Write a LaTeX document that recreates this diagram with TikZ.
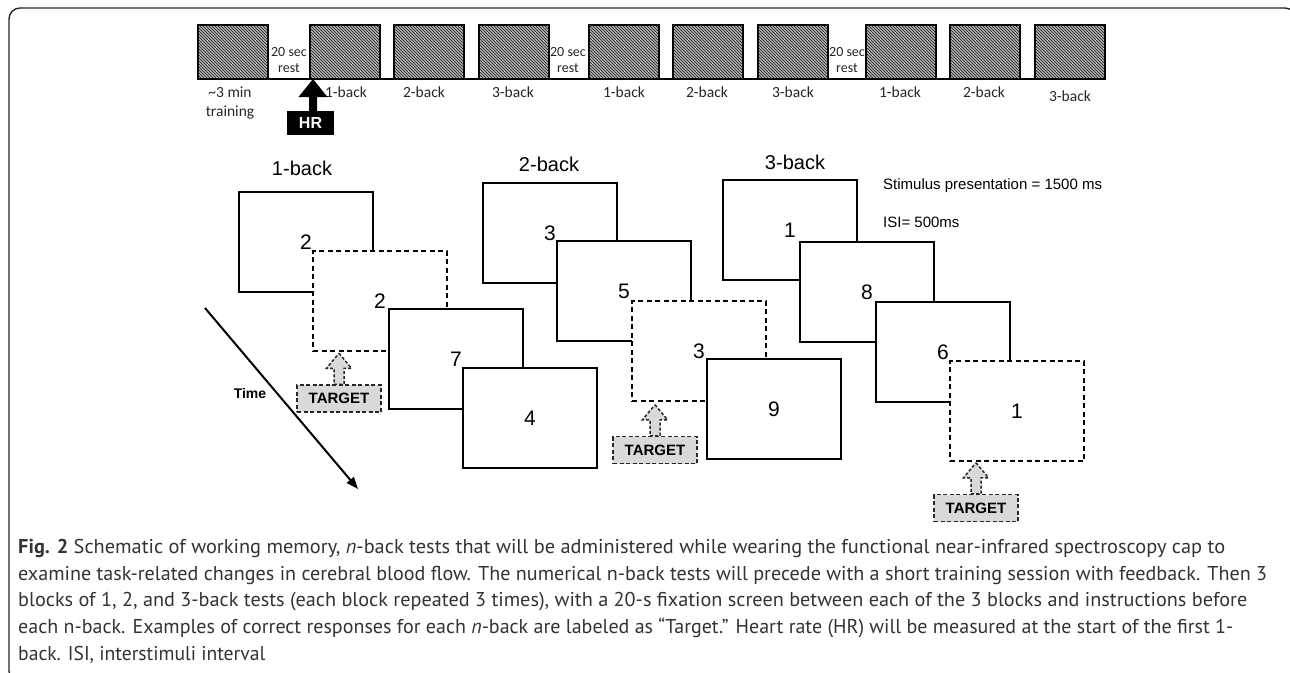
\documentclass[tikz,border=0pt]{standalone}
\usepackage{graphicx}
\usepackage{fontspec}
\setmainfont{Liberation Sans}
\newfontfamily\calfont{Carlito}
\newfontfamily\capfont{PT Sans}
\usetikzlibrary{patterns,arrows.meta,calc}
\newcommand\myfs[2]{\fontsize{#1}{#2}\selectfont}
\newcommand\capline[2]{\resizebox{#1pt}{\height}{#2}}
\newcommand\tgtarrow[1]{\draw[tgtarrow] ($(#1.north)+(0,-31)$) -- ++(12.5,15) -- ++(-7.5,0) -- ($(#1.north)+(5,0)$) -- ($(#1.north)+(-5,0)$) -- ($(#1.north)+(-5,-16)$) -- ++(-7.5,0) -- cycle;}
\begin{document}
\begin{tikzpicture}[x=1pt,y=-1pt,
  frame/.style={draw=black!85,line width=1.4pt,rounded corners=11pt},
  blk/.style={draw=black,line width=1.8pt,fill=gray!60,postaction={pattern=north west lines,pattern color=black!90},minimum width=70pt,minimum height=54pt,inner sep=0pt,outer sep=0pt,anchor=north west},
  toplbl/.style={font=\calfont\myfs{15.5}{18},inner sep=0pt,text=black!85},
  restlbl/.style={font=\calfont\myfs{14}{16},align=center,inner sep=0pt,text=black!85},
  scr/.style={draw=black,line width=1.5pt,fill=white,minimum width=134pt,minimum height=100pt,inner sep=0pt,outer sep=0pt,anchor=north west,font=\myfs{21}{24}},
  scrd/.style={scr,dash pattern=on 5pt off 3.5pt},
  grplbl/.style={font=\myfs{20}{24},inner sep=0pt},
  tgtbox/.style={draw=black!85,fill=black!15,line width=1.5pt,dash pattern=on 4pt off 2.5pt,font=\bfseries\myfs{15}{17},minimum width=84pt,minimum height=27pt,inner sep=0pt},
  tgtarrow/.style={draw=black!85,fill=black!15,line width=1.5pt,dash pattern=on 3pt off 2pt,line join=miter},
  timearrow/.style={line width=2pt,-{Triangle[length=12pt,width=9pt]}},
  captext/.style={anchor=base west,inner sep=0pt,font=\capfont\myfs{20}{24},text=black!80}
]
\useasboundingbox (0,0) rectangle (1290,672);
\fill[white] (0,0) rectangle (1290,672);
\draw[frame] (9,8) rectangle (1296,682);

% top timeline
\node[blk] (b1) at (198,25) {};
\node[blk] (b2) at (310,25) {};
\node[blk] (b3) at (394,25) {};
\node[blk] (b4) at (479,25) {};
\node[blk] (b5) at (589,25) {};
\node[blk] (b6) at (673,25) {};
\node[blk] (b7) at (758,25) {};
\node[blk] (b8) at (866,25) {};
\node[blk] (b9) at (950,25) {};
\node[blk] (b10) at (1035,25) {};
\draw[line width=1.6pt] (b1.south west) -- (b10.south east);

\node[restlbl] (r1) at (289,60) {20 sec\\rest};
\node[restlbl] (r2) at (568,60) {20 sec\\rest};
\node[restlbl] (r3) at (847,60) {20 sec\\rest};

\node[toplbl,align=center] (l0) at (230,103) {\textasciitilde3 min\\[1pt]training};
\node[toplbl] (l1) at (346,92) {1-back};
\node[toplbl] (l2) at (424,92) {2-back};
\node[toplbl] (l3) at (513,92) {3-back};
\node[toplbl] (l4) at (624,92) {1-back};
\node[toplbl] (l5) at (707,92) {2-back};
\node[toplbl] (l6) at (793,92) {3-back};
\node[toplbl] (l7) at (900,92) {1-back};
\node[toplbl] (l8) at (984,92) {2-back};
\node[toplbl] (l9) at (1070,96) {3-back};

% HR marker
\node[fill=black,text=white,font=\bfseries\myfs{16}{18},minimum width=47pt,minimum height=24pt,inner sep=0pt] (hr) at (310.5,123) {HR};
\coordinate (hrtip) at (313,79);
\fill[black] (hrtip) -- ++(14.5,18) -- ++(-10.5,0) -- ($(hr.north)+(6.5,0)$) -- ($(hr.north)+(-1.5,0)$) -- ($(hrtip)+(-4,18)$) -- ++(-10.5,0) -- cycle;

% group labels
\node[grplbl] (g1) at (302,168) {1-back};
\node[grplbl] (g2) at (549,164) {2-back};
\node[grplbl] (g3) at (795,162) {3-back};

% 1-back screens
\node[scr] (A) at (239,192) {2};
\node[scrd] (B) at (313,251) {2};
\node[scr] (C) at (389,309) {7};
\node[scr] (D) at (463,368) {4};

% 2-back screens
\node[scr] (F) at (483,183) {3};
\node[scr] (G) at (557,241) {5};
\node[scrd] (E) at (632,301) {3};
\node[scr] (H) at (707,359) {9};

% 3-back screens
\node[scr] (I) at (723,180) {1};
\node[scr] (J) at (800,242) {8};
\node[scr] (K) at (876,302) {6};
\node[scrd] (L) at (950,361) {1};

% timing text
\node[anchor=west,inner sep=0pt,font=\myfs{15}{18}] (stim) at (883,186) {Stimulus presentation = 1500 ms};
\node[anchor=west,inner sep=0pt,font=\myfs{15}{18}] (isi) at (883,222) {ISI= 500ms};

% time arrow
\coordinate (ts) at (205,308);
\coordinate (te) at (358,489);
\draw[timearrow] (ts) -- (te);
\node[font=\bfseries\myfs{14}{16},inner sep=0pt] (time) at (250,393) {Time};

% targets
\coordinate (T1) at (339,398.5);
\coordinate (T2) at (655,450);
\coordinate (T3) at (976,508);
\node[tgtbox] (t1) at (T1) {TARGET};
\node[tgtbox] (t2) at (T2) {TARGET};
\node[tgtbox] (t3) at (T3) {TARGET};
\tgtarrow{t1}
\tgtarrow{t2}
\tgtarrow{t3}
\node[tgtbox] (t1b) at (T1) {TARGET};
\node[tgtbox] (t2b) at (T2) {TARGET};
\node[tgtbox] (t3b) at (T3) {TARGET};

% caption
\node[captext] (c1) at (18,553) {\capline{1207}{\textbf{Fig. 2} Schematic of working memory, \textit{n}-back tests that will be administered while wearing the functional near-infrared spectroscopy cap to}};
\node[captext] (c2) at (18,580) {\capline{1249}{examine task-related changes in cerebral blood flow. The numerical n-back tests will precede with a short training session with feedback. Then 3}};
\node[captext] (c3) at (18,606.5) {\capline{1229}{blocks of 1, 2, and 3-back tests (each block repeated 3 times), with a 20-s fixation screen between each of the 3 blocks and instructions before}};
\node[captext] (c4) at (18,633) {\capline{1215}{each n-back. Examples of correct responses for each \textit{n}-back are labeled as “Target.” Heart rate (HR) will be measured at the start of the first 1-}};
\node[captext] (c5) at (18,660) {\capline{247}{back. ISI, interstimuli interval}};
\end{tikzpicture}
\end{document}
